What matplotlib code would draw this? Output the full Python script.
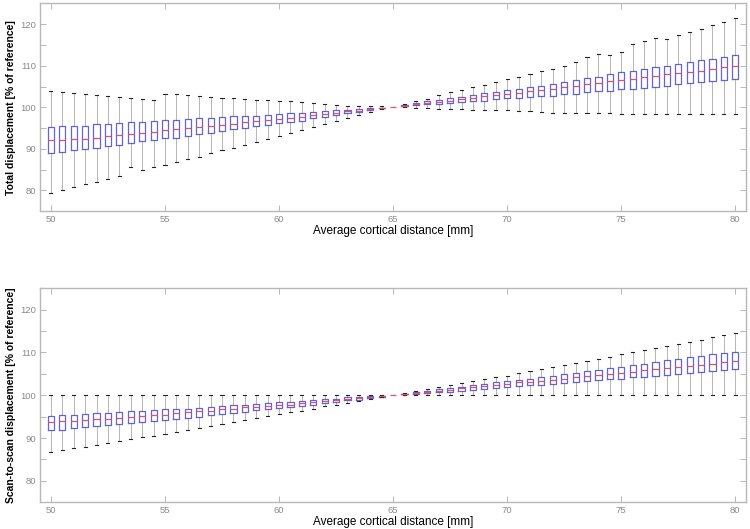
import numpy as np
import matplotlib
matplotlib.use("Agg")
import matplotlib.pyplot as plt

plt.rcParams['font.family'] = ['Liberation Sans', 'DejaVu Sans']

# Category positions: average cortical distance [mm]
distance_mm = np.arange(50.0, 80.5, 0.5)

# ---- Total displacement [% of reference] ----
total_lo = [79.4, 80.1, 80.7, 81.4, 82.1, 82.7, 83.4, 85.5, 84.8, 85.5,
            86.0, 86.8, 87.5, 88.1, 88.9, 89.6, 90.2, 90.9, 91.6, 92.3,
            93.0, 93.7, 94.5, 95.2, 95.9, 96.6, 97.3, 98.1, 98.8, 99.5,
            100.0, 100.0, 99.9, 99.8, 99.6, 99.6, 99.5, 99.3, 99.3, 99.4,
            99.4, 99.0, 99.0, 98.8, 98.7, 98.7, 98.6, 98.6, 98.5, 98.5,
            98.4, 98.4, 98.3, 98.3, 98.3, 98.3, 98.3, 98.3, 98.3, 98.3, 98.3]
total_q1 = [88.9, 89.2, 89.6, 89.9, 90.3, 90.6, 91.0, 91.4, 91.8, 92.1,
            92.5, 92.7, 93.1, 93.5, 93.9, 94.2, 94.7, 94.9, 95.4, 95.7,
            96.1, 96.5, 96.8, 97.3, 97.7, 98.1, 98.5, 98.8, 99.3, 99.7,
            100.0, 100.2, 100.6, 100.7, 100.8, 101.0, 101.2, 101.5, 101.6, 101.9,
            102.2, 102.3, 102.5, 102.7, 102.8, 103.1, 103.3, 103.6, 103.9, 104.0,
            104.3, 104.5, 104.7, 105.0, 105.2, 105.5, 105.8, 106.0, 106.3, 106.5, 106.8]
total_med = [92.1, 92.2, 92.3, 92.4, 92.7, 93.0, 93.2, 93.5, 93.8, 94.1,
             94.4, 94.7, 94.9, 95.2, 95.4, 95.7, 96.0, 96.4, 96.7, 96.9,
             97.2, 97.4, 97.7, 98.1, 98.4, 98.6, 99.0, 99.2, 99.5, 99.8,
             100.0, 100.4, 100.8, 101.0, 101.3, 101.6, 101.9, 102.3, 102.6, 102.9,
             103.2, 103.5, 103.9, 104.2, 104.5, 104.8, 105.2, 105.5, 105.9, 106.3,
             106.5, 106.9, 107.2, 107.6, 108.0, 108.2, 108.6, 108.8, 109.2, 109.6, 109.9]
total_q3 = [95.2, 95.4, 95.6, 95.6, 95.9, 96.0, 96.1, 96.4, 96.5, 96.7,
            96.9, 96.9, 97.1, 97.3, 97.3, 97.6, 97.8, 97.8, 98.0, 98.1,
            98.4, 98.5, 98.7, 98.9, 99.1, 99.3, 99.4, 99.6, 99.8, 99.9,
            100.0, 100.5, 101.1, 101.5, 101.8, 102.2, 102.4, 102.9, 103.4, 103.7,
            104.1, 104.5, 105.0, 105.2, 105.7, 106.2, 106.6, 107.1, 107.4, 107.9,
            108.4, 108.8, 109.2, 109.6, 110.0, 110.5, 110.9, 111.3, 111.7, 112.2, 112.7]
total_hi = [104.0, 103.7, 103.4, 103.1, 102.9, 102.7, 102.4, 102.2, 101.9, 101.7,
            103.2, 103.1, 102.9, 102.6, 102.4, 102.3, 102.2, 101.9, 101.7, 101.7,
            101.5, 101.4, 101.2, 101.0, 100.9, 100.6, 100.4, 100.4, 100.2, 100.2,
            100.0, 100.7, 101.5, 102.1, 102.9, 103.6, 104.1, 104.8, 105.4, 106.0,
            106.7, 107.3, 108.0, 108.7, 109.3, 110.0, 110.8, 112.2, 112.9, 112.7,
            113.3, 115.2, 115.9, 116.6, 116.5, 117.3, 118.2, 118.9, 119.9, 120.6, 121.5]

# ---- Scan-to-scan displacement [% of reference] ----
scan_lo = [86.7, 87.2, 87.6, 88.0, 88.4, 88.8, 89.3, 89.7, 90.2, 90.6,
           91.0, 91.4, 91.9, 92.3, 92.8, 93.2, 93.7, 94.2, 94.6, 95.1,
           95.6, 96.0, 96.4, 96.9, 97.4, 97.7, 98.2, 98.7, 99.1, 99.6,
           100.0, 100.0, 100.0, 100.0, 100.0, 100.0, 100.0, 100.0, 100.0, 100.0,
           100.0, 100.0, 100.0, 100.0, 100.0, 100.0, 100.0, 100.0, 100.0, 100.0,
           100.0, 100.0, 100.0, 100.0, 100.0, 100.0, 100.0, 100.0, 100.0, 100.0, 100.0]
scan_q1 = [91.8, 92.0, 92.3, 92.5, 92.8, 93.0, 93.2, 93.5, 93.7, 93.9,
           94.2, 94.5, 94.7, 95.0, 95.3, 95.6, 95.8, 96.1, 96.5, 96.7,
           97.0, 97.2, 97.4, 97.8, 98.1, 98.4, 98.8, 99.0, 99.4, 99.7,
           100.0, 100.2, 100.4, 100.5, 100.7, 100.8, 101.0, 101.2, 101.4, 101.6,
           101.9, 102.1, 102.4, 102.5, 102.7, 102.9, 103.1, 103.3, 103.5, 103.8,
           103.9, 104.2, 104.3, 104.5, 104.8, 104.9, 105.2, 105.4, 105.6, 105.9, 106.1]
scan_med = [93.8, 93.9, 94.1, 94.2, 94.5, 94.5, 94.8, 95.0, 95.1, 95.3,
            95.5, 95.9, 96.0, 96.3, 96.4, 96.7, 96.9, 97.2, 97.3, 97.5,
            97.7, 97.8, 98.1, 98.4, 98.6, 98.8, 99.1, 99.3, 99.5, 99.8,
            100.0, 100.2, 100.6, 100.8, 101.1, 101.3, 101.6, 101.9, 102.1, 102.4,
            102.6, 103.0, 103.1, 103.4, 103.6, 103.9, 104.2, 104.5, 104.8, 105.0,
            105.3, 105.5, 105.8, 106.1, 106.3, 106.6, 106.9, 107.1, 107.4, 107.8, 108.1]
scan_q3 = [95.2, 95.3, 95.5, 95.6, 95.9, 95.9, 96.0, 96.3, 96.3, 96.5,
           96.7, 96.8, 96.9, 97.1, 97.3, 97.4, 97.7, 97.8, 97.9, 98.1,
           98.4, 98.4, 98.7, 98.9, 99.1, 99.2, 99.5, 99.5, 99.8, 99.8,
           100.0, 100.3, 100.8, 101.0, 101.4, 101.7, 102.0, 102.3, 102.6, 103.0,
           103.3, 103.5, 103.9, 104.2, 104.6, 104.9, 105.3, 105.6, 106.0, 106.3,
           106.7, 107.0, 107.4, 107.8, 108.2, 108.5, 108.9, 109.2, 109.6, 109.9, 110.2]
scan_hi = [100.0] * 31 + [
           100.5, 101.0, 101.4, 101.9, 102.4, 102.9, 103.3, 103.7, 104.2,
           104.6, 105.2, 105.6, 106.1, 106.6, 107.1, 107.6, 108.0, 108.5, 109.0,
           109.6, 110.0, 110.5, 111.1, 111.5, 112.0, 112.5, 113.0, 113.6, 114.1, 114.6]

y_labels = ["Total displacement [% of reference]",
            "Scan-to-scan displacement [% of reference]"]
x_label = "Average cortical distance [mm]"

BOX_C = '#6464d4'
MED_C = '#e8505a'
SPINE_C = '#b8b8b8'
TICK_TXT = '#8a8a8a'


def make_stats(lo, q1, med, q3, hi):
    return [dict(whislo=a, q1=b, med=c, q3=d, whishi=e, fliers=[])
            for a, b, c, d, e in zip(lo, q1, med, q3, hi)]


fig = plt.figure(figsize=(7.5, 5.29), dpi=100)
ax1 = fig.add_axes([0.0533, 0.6011, 0.9414, 0.3923])
ax2 = fig.add_axes([0.0533, 0.0505, 0.9414, 0.4045])

datasets = [(total_lo, total_q1, total_med, total_q3, total_hi),
            (scan_lo, scan_q1, scan_med, scan_q3, scan_hi)]

for ax, data, ylab in zip([ax1, ax2], datasets, y_labels):
    stats = make_stats(*data)
    res = ax.bxp(stats, positions=distance_mm, widths=0.27, showfliers=False,
                 manage_ticks=False,
                 boxprops=dict(color=BOX_C, linewidth=0.9),
                 medianprops=dict(color=MED_C, linewidth=0.9),
                 whiskerprops=dict(color='#555555', linewidth=0.6,
                                   linestyle=(0, (1.2, 1.2))),
                 capprops=dict(color='#222222', linewidth=0.8))
    # the box at the reference distance collapses to its median
    idx = int(np.where(np.isclose(distance_mm, 65.0))[0][0])
    res['caps'][2 * idx].set_visible(False)
    res['caps'][2 * idx + 1].set_visible(False)
    res['boxes'][idx].set_visible(False)

    ax.set_xlim(49.52, 80.47)
    ax.set_ylim(75, 125)
    ax.set_xticks(np.arange(50, 81, 5))
    ax.set_xticklabels([str(v) for v in range(50, 81, 5)])
    yt = np.arange(80, 121, 5)
    ax.set_yticks(yt)
    ax.set_yticklabels([str(v) if v % 10 == 0 else '' for v in yt])
    ax.tick_params(direction='in', length=4, width=0.7, color=SPINE_C,
                   labelcolor=TICK_TXT, labelsize=6.8,
                   top=True, right=True)
    ax.tick_params(axis='x', pad=3)
    ax.tick_params(axis='y', pad=3)
    for s in ax.spines.values():
        s.set_color(SPINE_C)
        s.set_linewidth(1.0)
    ax.set_ylabel(ylab, fontsize=7.5, fontweight='bold', color='black',
                  labelpad=3)
    ax.set_xlabel(x_label, fontsize=8.5, color='black', labelpad=0.5)

fig.savefig('out.png', dpi=100)
